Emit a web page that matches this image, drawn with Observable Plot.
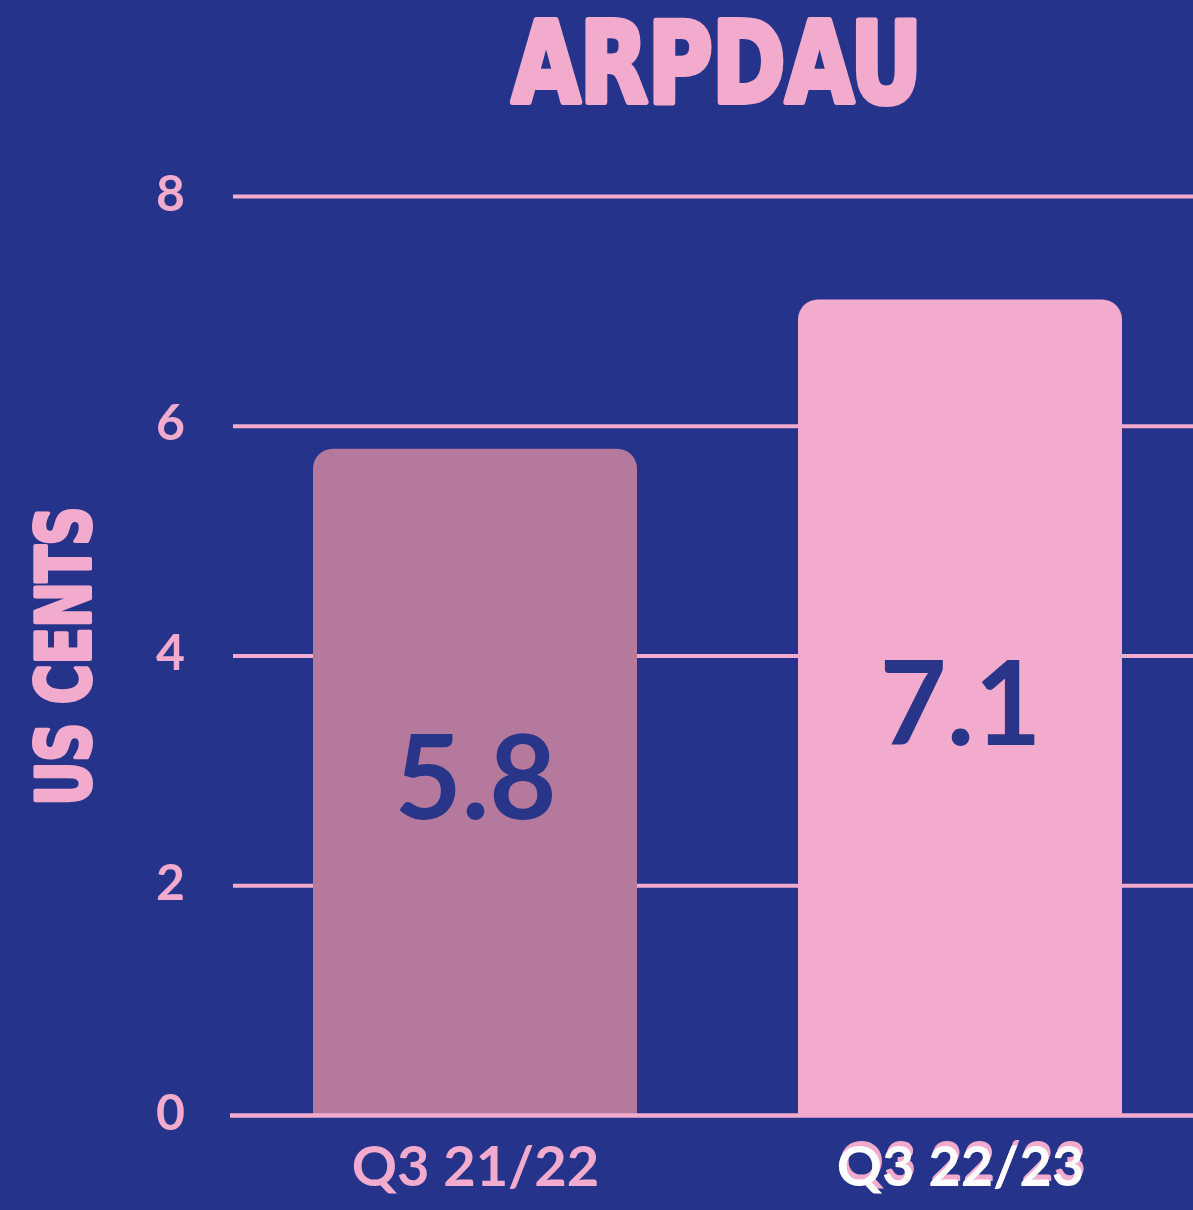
<!DOCTYPE html>
<html>
<head>
<meta charset="utf-8">
<script src="https://cdn.jsdelivr.net/npm/d3@7"></script>
<script src="https://cdn.jsdelivr.net/npm/@observablehq/plot@0.6"></script>
<style>
  html, body { margin: 0; padding: 0; background: #25348A; }
  #chart { width: 1193px; height: 1210px; }
  svg { display: block; }
</style>
</head>
<body>
<div id="chart"></div>
<script>
const categories = ["Q3 21/22", "Q3 22/23"];
const values = [5.8, 7.1];
const yTicks = [0, 2, 4, 6, 8];
const titleText = "ARPDAU";
const yLabel = "US CENTS";

const PINK = "#F2AACD";
const BAR1 = "#B4799D";
const NAVY = "#25348A";
const VALUE_INK = "#283589";

const data = categories.map((c, i) => ({category: c, value: values[i]}));
const highlight = categories[categories.length - 1];

const chart = Plot.plot({
  width: 1193,
  height: 1210,
  marginTop: 196,
  marginBottom: 95,
  marginLeft: 313,
  marginRight: 71,
  style: {background: NAVY, fontFamily: "Lato, 'Noto Sans', sans-serif", overflow: "visible"},
  x: {domain: categories, paddingInner: 0.332, paddingOuter: 0, axis: null},
  y: {domain: [0, 8], axis: null},
  color: {domain: categories, range: [BAR1, PINK]},
  marks: [
    Plot.ruleY(yTicks.filter(t => t > 0), {stroke: PINK, strokeWidth: 4, insetLeft: -80, insetRight: -71}),
    Plot.barY(data, {x: "category", y1: -0.5, y2: "value", fill: "category", rx: 20, clip: true}),
    Plot.ruleY([0], {stroke: PINK, strokeWidth: 4.5, insetLeft: -83, insetRight: -71}),
    Plot.text(yTicks, {y: d => d, text: d => String(d), frameAnchor: "left", lineAnchor: "middle", dx: -143, dy: -2,
      textAnchor: "middle", fill: PINK, fontSize: 50, fontWeight: 700}),
    Plot.text(data, {x: "category", y: d => d.value / 2, text: d => d.value.toFixed(1),
      fill: VALUE_INK, fontSize: 116, fontWeight: 700}),
    Plot.text(data, {filter: d => d.category !== highlight, x: "category", frameAnchor: "bottom", lineAnchor: "middle", dy: 53,
      text: "category", fill: PINK, fontSize: 56, fontWeight: 700}),
    Plot.text(data, {filter: d => d.category === highlight, x: "category", frameAnchor: "bottom", lineAnchor: "middle", dy: 48, dx: 2,
      text: "category", fill: PINK, fontSize: 56, fontWeight: 700}),
    Plot.text(data, {filter: d => d.category === highlight, x: "category", frameAnchor: "bottom", lineAnchor: "middle", dy: 53,
      text: "category", fill: "white", fontSize: 56, fontWeight: 700})
  ]
});

const svg = d3.select(chart);
svg.append("text")
  .attr("x", 717).attr("y", 102)
  .attr("text-anchor", "middle")
  .attr("font-family", "'DejaVu Sans Condensed', 'DejaVu Sans', sans-serif")
  .attr("font-weight", 700)
  .attr("font-size", 112)
  .attr("fill", PINK)
  .attr("stroke", PINK)
  .attr("stroke-width", 6)
  .attr("stroke-linejoin", "round")
  .attr("textLength", 410)
  .attr("lengthAdjust", "spacingAndGlyphs")
  .text(titleText);

svg.append("text")
  .attr("transform", "translate(90,656) rotate(-90)")
  .attr("text-anchor", "middle")
  .attr("font-family", "'DejaVu Sans Condensed', 'DejaVu Sans', sans-serif")
  .attr("font-weight", 700)
  .attr("font-size", 74)
  .attr("fill", PINK)
  .attr("stroke", PINK)
  .attr("stroke-width", 4)
  .attr("stroke-linejoin", "round")
  .attr("textLength", 299)
  .attr("lengthAdjust", "spacingAndGlyphs")
  .text(yLabel);

document.getElementById("chart").appendChild(chart);
</script>
</body>
</html>
